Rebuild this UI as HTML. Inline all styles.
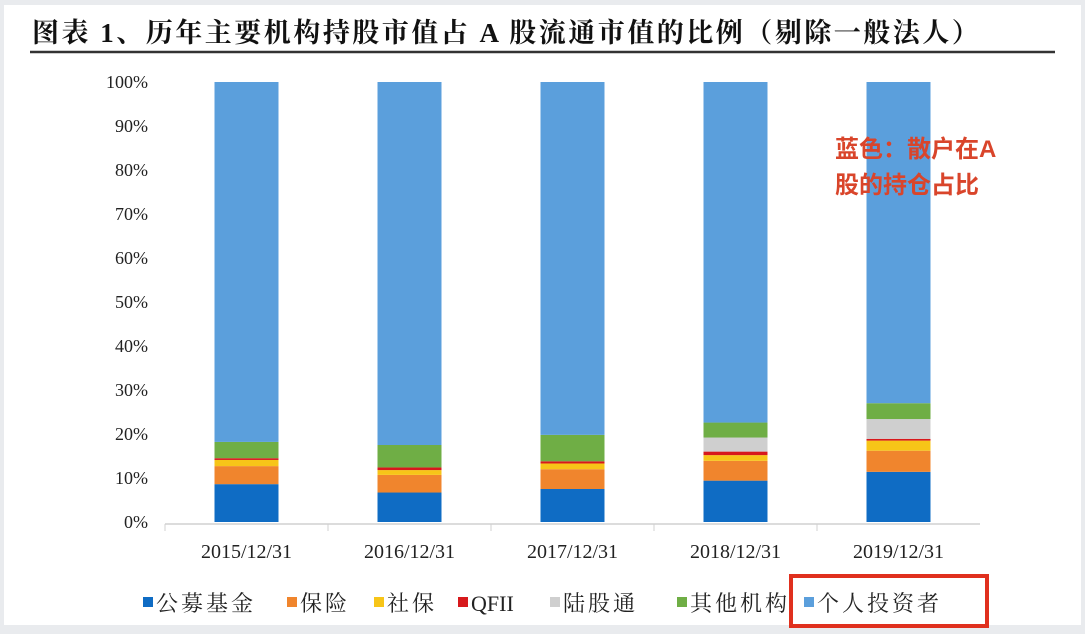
<!DOCTYPE html>
<html><head><meta charset="utf-8"><style>
body{margin:0;width:1085px;height:634px;background:#e9ebee;overflow:hidden;font-family:"Liberation Serif","Noto Serif CJK SC",serif}
#card{position:absolute;left:4px;top:5px;width:1077px;height:620px;background:#fff}
</style></head><body>
<div id="card"></div>
<svg id="chart" width="1085" height="634" style="position:absolute;left:0;top:0">
<text x="32" y="42" font-size="27" font-weight="bold" letter-spacing="2.5" fill="#111" font-family="Liberation Serif,Noto Serif CJK SC,serif">图表 1、历年主要机构持股市值占 A 股流通市值的比例（剔除一般法人）</text>
<line x1="30" y1="52" x2="1055" y2="52" stroke="#333" stroke-width="2.5"/>
<g id="yaxis"></g><g id="bars"></g><g id="xaxis"></g>
<text x="835" y="157" font-size="24" font-weight="bold" fill="#d9452b" font-family="Liberation Sans,Noto Sans CJK SC,sans-serif">蓝色：散户在A</text>
<text x="835" y="193" font-size="24" font-weight="bold" fill="#d9452b" font-family="Liberation Sans,Noto Sans CJK SC,sans-serif">股的持仓占比</text>
<g id="legend"></g>
<rect x="791" y="576" width="196" height="50" fill="none" stroke="#e0301e" stroke-width="4"/>
</svg>
<script>
const categories=["2015/12/31","2016/12/31","2017/12/31","2018/12/31","2019/12/31"];
const seriesNames=["公募基金","保险","社保","QFII","陆股通","其他机构","个人投资者"];
const fund=[8.6,6.7,7.5,9.4,11.4];
const insurance=[4.1,4.0,4.5,4.5,4.8];
const social=[1.4,1.1,1.3,1.3,2.3];
const qfii=[0.4,0.6,0.5,0.8,0.4];
const hkconnect=[0,0,0,3.2,4.5];
const others=[3.7,5.1,6.0,3.4,3.6];
const yTicks=["0%","10%","20%","30%","40%","50%","60%","70%","80%","90%","100%"];
const colors=["#0f6cc4","#f0852d","#f7c518","#d7191c","#cfcfcf","#6fae45","#5b9fdc"];
const NS="http://www.w3.org/2000/svg";
const y0=522,y1=82,xL=165,xR=980;
const ys=v=>y0-(v/100)*(y0-y1);
const band=(xR-xL)/categories.length;
const xc=i=>xL+band*(i+0.5);
const bw=64;
function mk(t,a,p){const e=document.createElementNS(NS,t);for(const k in a)e.setAttribute(k,a[k]);p.appendChild(e);return e;}
const ya=document.getElementById('yaxis');
yTicks.forEach((t,i)=>{const e=mk('text',{x:148,y:ys(i*10)+6,'text-anchor':'end','font-size':18,fill:'#222'},ya);e.textContent=t;

});
const bars=document.getElementById('bars');
const data=[fund,insurance,social,qfii,hkconnect,others];
categories.forEach((c,i)=>{let acc=0;
data.forEach((s,j)=>{const v=s[i];if(v<=0){return;}
const r=mk('rect',{x:xc(i)-bw/2,y:ys(acc+v),width:bw,height:ys(acc)-ys(acc+v),fill:colors[j]},bars);

acc+=v;});
const r=mk('rect',{x:xc(i)-bw/2,y:ys(100),width:bw,height:ys(acc)-ys(100),fill:colors[6]},bars);

});
const xa=document.getElementById('xaxis');
const al=mk('line',{x1:xL,y1:y0+2,x2:xR,y2:y0+2,stroke:'#d0d0d0','stroke-width':1.5},xa);


categories.forEach((c,i)=>{const t=mk('line',{x1:xL+band*i,y1:y0+2,x2:xL+band*i,y2:y0+9,stroke:'#d0d0d0'},xa);


const e=mk('text',{x:xc(i),y:558,'text-anchor':'middle','font-size':20,fill:'#222'},xa);e.textContent=c;

});
const lg=document.getElementById('legend');
const lx=[143,287,374,458,550,677,804];
seriesNames.forEach((n,j)=>{const g=mk('g',{},lg);


mk('rect',{x:lx[j],y:597,width:10,height:10,fill:colors[j]},g);
const t=mk('text',{x:lx[j]+13,y:611,'font-size':22,fill:'#222','letter-spacing':j==3?0:3},g);t.textContent=n;});
</script>
</body></html>
